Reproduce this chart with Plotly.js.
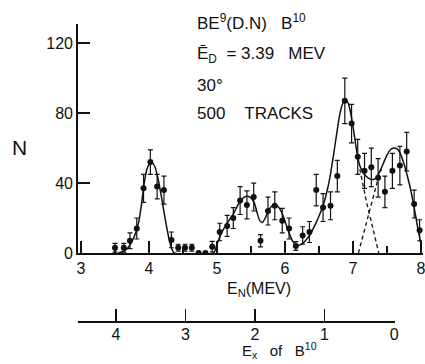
<!DOCTYPE html>
<html>
<head>
<meta charset="utf-8">
<script src="https://cdn.plot.ly/plotly-3.0.1.min.js"></script>
<style>html,body{margin:0;padding:0;background:#fff;}#chart{width:425px;height:364px;}</style>
</head>
<body>
<div id="chart"></div>
<script>
// Measured neutron counts (E_N in MeV, N per interval, statistical error)
const pointE = [3.50, 3.63, 3.72, 3.82, 3.92, 4.02, 4.12, 4.22, 4.33, 4.43, 4.53, 4.63, 4.73, 4.83, 4.93,
  5.04, 5.15, 5.24, 5.34, 5.44, 5.54, 5.64, 5.75, 5.85, 5.96, 6.06, 6.16, 6.26, 6.36, 6.46, 6.56,
  6.67, 6.77, 6.88, 6.98, 7.07, 7.17, 7.27, 7.37, 7.47, 7.58, 7.69, 7.79, 7.90, 7.98];
const pointN = [3, 3, 7, 14, 37, 52, 38, 36, 7.5, 3, 3, 3, 0, 0, 3.6,
  12, 15.5, 20, 30, 27.5, 32, 7, 24, 27, 18.5, 14, 4, 10, 12, 36, 26,
  27, 44, 87, 74, 55, 47, 49, 43, 35, 47, 50, 58, 28, 13];
const pointErr = [2.5, 2.5, 4.5, 6, 8, 7, 7, 8, 4.5, 2, 2, 2, 0, 0, 3,
  5, 6, 6, 8, 8, 8, 3.5, 8, 8, 7, 6, 2.5, 5, 6, 9, 8,
  8, 9, 13, 11, 10, 10, 11, 11, 9, 10, 11, 11, 8, 6];

// Fitted smooth curve
const curveE = [3.55, 3.62, 3.68, 3.74, 3.80, 3.85, 3.89, 3.93, 3.97, 4.01, 4.05, 4.09, 4.13, 4.17, 4.21,
  4.25, 4.29, 4.33, 4.37, 4.95, 5.00, 5.05, 5.10, 5.15, 5.20, 5.25, 5.30, 5.35, 5.40, 5.45, 5.50,
  5.55, 5.59, 5.63, 5.67, 5.71, 5.76, 5.81, 5.86, 5.91, 5.96, 6.01, 6.06, 6.11, 6.16, 6.21, 6.26,
  6.31, 6.36, 6.41, 6.46, 6.51, 6.56, 6.61, 6.66, 6.71, 6.76, 6.80, 6.84, 6.88, 6.92, 6.95, 6.98,
  7.01, 7.04, 7.07, 7.10, 7.14, 7.19, 7.24, 7.30, 7.35, 7.40, 7.45, 7.50, 7.55, 7.60, 7.65, 7.70,
  7.75, 7.80, 7.85, 7.90, 7.95, 8.00];
const curveN = [0, 1, 2.5, 6, 11, 18, 28, 40, 48, 51, 51.5, 49, 43, 35, 26,
  17, 9, 3, 0, 0, 5, 10, 14, 17, 20, 23, 27, 30, 32, 32.5, 31.5,
  28.5, 23, 18.5, 17.5, 20, 24.5, 27, 27.5, 26, 22.5, 17, 11.5, 7, 4.6, 4.5, 5.5,
  7.5, 10, 13.5, 17.5, 22, 27, 34, 43, 55, 68, 78, 84.5, 87, 86.5, 83, 77,
  70, 62, 55, 50, 46.5, 44, 42.5, 42, 43.5, 47, 51.5, 56, 59, 60, 59.5, 56.5,
  51, 44, 36, 26, 15, 5];

// Dashed resolved components
const dashAE = [7.10, 7.15, 7.20, 7.25, 7.30, 7.35, 7.38];
const dashAN = [48, 38, 29, 21, 13, 5, 0];
const dashBE = [7.08, 7.12, 7.18, 7.23, 7.28, 7.33, 7.38, 7.42];
const dashBN = [0, 6, 14, 21, 29, 37, 44, 48];

// Axis ticks
const enTicks = [3, 4, 5, 6, 7, 8];
const nTicks = [0, 40, 80, 120];
const exTicks = [0, 1, 2, 3, 4];

const FONT = 'Liberation Sans, Arial, sans-serif';
const BLACK = '#111';

const traces = [
  {x: [], y: [], xaxis: 'x2', yaxis: 'y', type: 'scatter', mode: 'markers', showlegend: false, hoverinfo: 'skip'},
  {x: curveE, y: curveN, type: 'scatter', mode: 'lines', line: {color: BLACK, width: 1.5, shape: 'spline', smoothing: 0.6}, hoverinfo: 'skip', showlegend: false},
  {x: dashAE, y: dashAN, type: 'scatter', mode: 'lines', line: {color: BLACK, width: 1.3, dash: '4px,3px'}, showlegend: false},
  {x: dashBE, y: dashBN, type: 'scatter', mode: 'lines', line: {color: BLACK, width: 1.3, dash: '4px,3px'}, showlegend: false},
  {x: pointE, y: pointN, type: 'scatter', mode: 'markers', marker: {color: BLACK, size: 6},
   error_y: {type: 'data', array: pointErr, visible: true, color: BLACK, thickness: 1.2, width: 2.5}, showlegend: false}
];

const layout = {
  width: 425, height: 364,
  margin: {l: 78, r: 2, t: 24, b: 42},
  paper_bgcolor: '#fff', plot_bgcolor: 'rgba(0,0,0,0)',
  font: {family: FONT, color: BLACK, size: 15},
  showlegend: false,
  xaxis: {
    domain: [0, 1], range: [2.956, 8.03], anchor: 'y',
    tickvals: enTicks, ticks: 'inside', ticklen: 12, tickwidth: 1.5, tickcolor: BLACK,
    showline: true, linewidth: 1.8, linecolor: BLACK, showgrid: false, zeroline: false,
    tickfont: {size: 16, family: FONT}, ticklabeloverflow: 'allow',
    minor: {dtick: 0.5, tick0: 3, ticks: 'inside', ticklen: 7, tickwidth: 1.2, tickcolor: BLACK, showgrid: false}
  },
  yaxis: {
    domain: [0.2315, 1], range: [0, 130.9], anchor: 'x',
    tickvals: nTicks, ticks: 'inside', ticklen: 12, tickwidth: 1.5, tickcolor: BLACK,
    showline: true, linewidth: 1.8, linecolor: BLACK, showgrid: false, zeroline: false,
    tickfont: {size: 16, family: FONT}
  },
  xaxis2: {
    domain: [0, 0.919], range: [4.544, -0.014], anchor: 'free', position: 0, side: 'bottom',
    tickvals: exTicks, ticks: 'inside', ticklen: 12, tickwidth: 1.5, tickcolor: BLACK,
    showline: true, linewidth: 2, linecolor: BLACK, showgrid: false, zeroline: false,
    tickfont: {size: 16, family: FONT}, ticklabelstandoff: -2
  },
  annotations: [
    {text: 'BE<sup>9</sup>(D.N)\u00a0\u00a0 B<sup>10</sup>', xref: 'paper', yref: 'paper', x: 0.339, y: 1.008, xanchor: 'left', yanchor: 'middle', showarrow: false, font: {size: 17, family: FONT}},
    {text: '\u0112<sub>D</sub>\u00a0 = 3.39\u00a0\u00a0 MEV', xref: 'paper', yref: 'paper', x: 0.339, y: 0.895, xanchor: 'left', yanchor: 'middle', showarrow: false, font: {size: 17, family: FONT}},
    {text: '30\u00b0', xref: 'paper', yref: 'paper', x: 0.339, y: 0.795, xanchor: 'left', yanchor: 'middle', showarrow: false, font: {size: 17, family: FONT}},
    {text: '500\u00a0\u00a0\u00a0\u00a0TRACKS', xref: 'paper', yref: 'paper', x: 0.339, y: 0.700, xanchor: 'left', yanchor: 'middle', showarrow: false, font: {size: 17, family: FONT}},
    {text: 'N', xref: 'paper', yref: 'paper', x: -0.171, y: 0.587, xanchor: 'center', yanchor: 'middle', showarrow: false, font: {size: 21, family: FONT}},
    {text: 'E<sub>N</sub>(MEV)', xref: 'paper', yref: 'paper', x: 0.525, y: 0.11, xanchor: 'center', yanchor: 'middle', showarrow: false, font: {size: 16, family: FONT}},
    {text: 'E<sub>x</sub>\u00a0\u00a0 of\u00a0\u00a0 B<sup>10</sup>', xref: 'paper', yref: 'paper', x: 0.585, y: -0.097, xanchor: 'center', yanchor: 'middle', showarrow: false, font: {size: 15, family: FONT}}
  ]
};

Plotly.newPlot('chart', traces, layout, {displayModeBar: false, staticPlot: true});
</script>
</body>
</html>
